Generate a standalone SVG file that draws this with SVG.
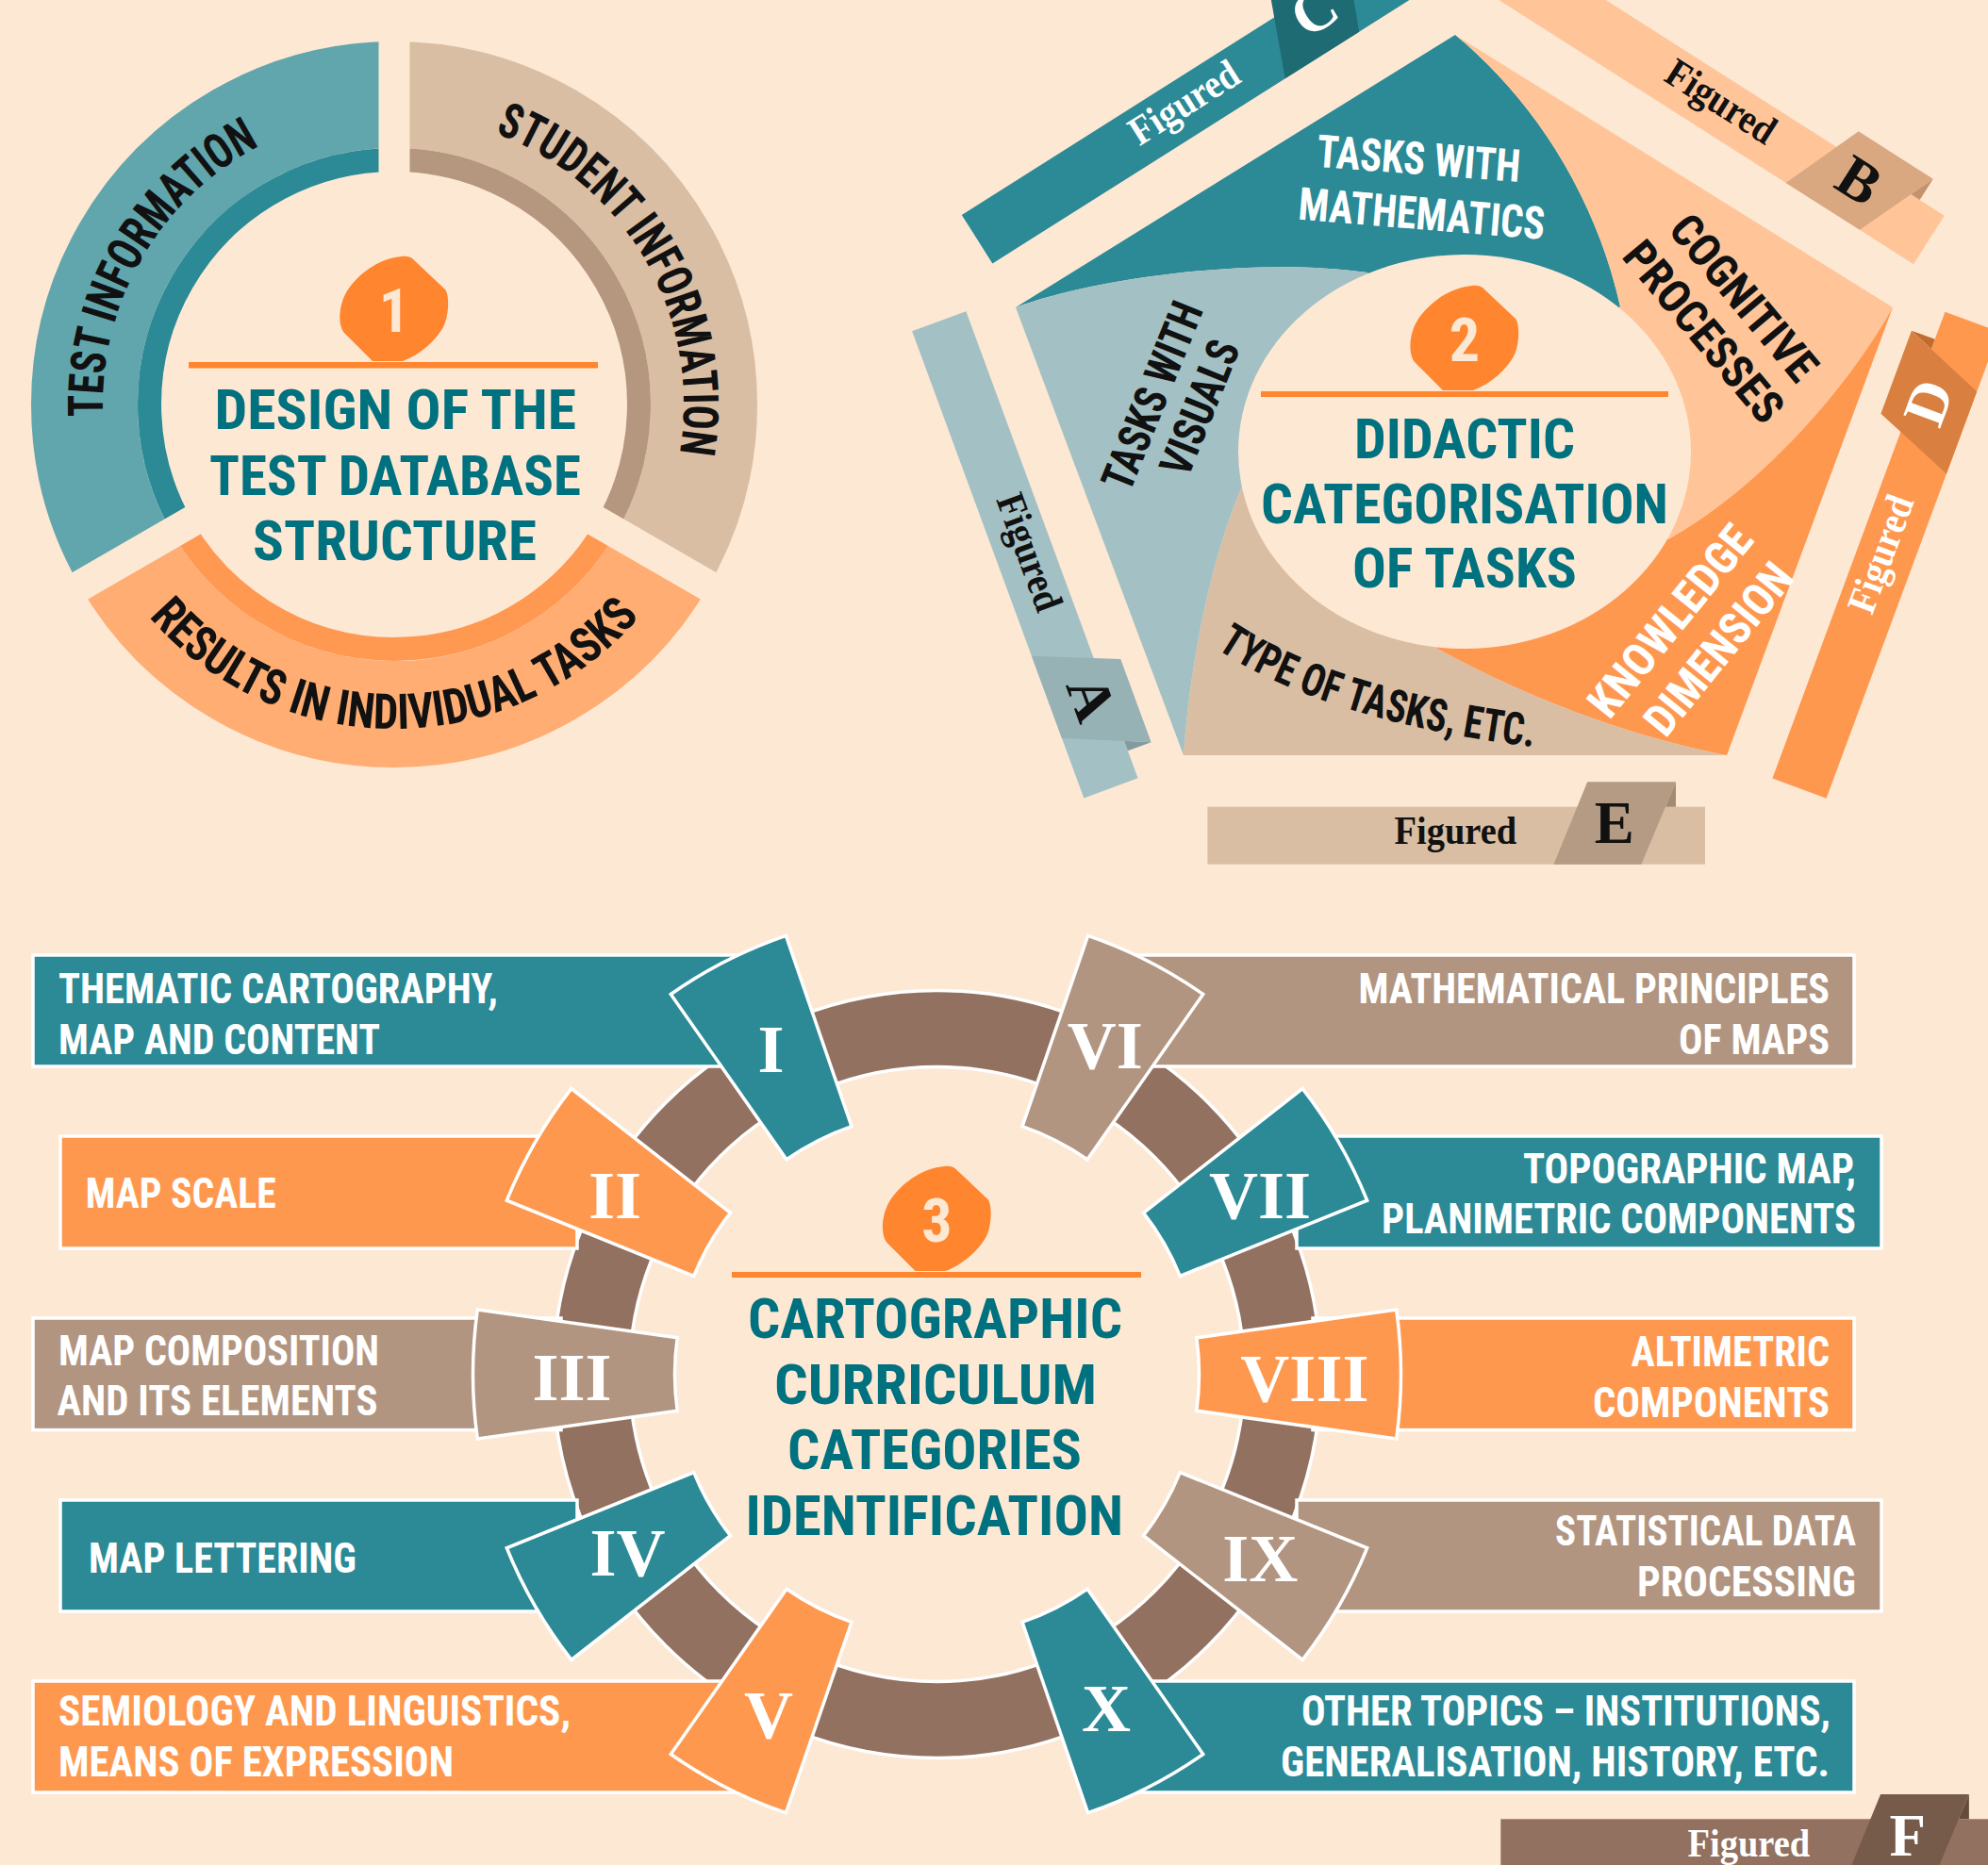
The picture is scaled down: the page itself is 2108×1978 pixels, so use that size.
<svg xmlns="http://www.w3.org/2000/svg" width="2108" height="1978" viewBox="0 0 2108 1978">
<defs>
<style>
.hd{font-family:'Roboto Condensed','Liberation Sans Narrow',Roboto,'Liberation Sans',sans-serif;font-weight:700}
.sf{font-family:'Liberation Serif','DejaVu Serif',serif;font-weight:700}
.title{fill:#00717f;font-size:60px}
.ring1{font-size:52px;fill:#111}
.lab{font-size:48px}
.bt{font-size:45px;fill:#fff}
.num{font-size:72px;fill:#fff;text-anchor:middle}
.fig{font-size:43px}
.let{font-size:63px;text-anchor:middle}
.bar{stroke:#fff;stroke-width:3.5}
.tab{stroke:#fff;stroke-width:3.5;stroke-linejoin:miter}
.teal{fill:#2b8a96}.orange{fill:#ff984f}.tan{fill:#b29580}
.badge{fill:#ff852f}
.digit{font-size:64px;fill:#fde8d4;text-anchor:middle}
.w{fill:#fff}.k{fill:#111}
</style>
<path id="badge" d="M-23,55 L-53,25 C-60,17 -60,-8 -46,-25 C-34,-40 -15,-54 8,-56 C14,-57 17,-55 19,-54 L54,-21 C59,-15 58,8 52,19 C44,33 28,48 9,55 Z"/>
<path id="tab" d="M487.2,68.5 A492,492 0 0 0 487.2,-68.5 L275.3,-38.7 A278,278 0 0 1 275.3,38.7 Z"/>
<path id="tp1" d="M119.5,509 A309,309 0 0 1 338,130.5"/>
<path id="tp2" d="M497.5,132.5 A307,307 0 0 1 714.5,508.5"/>
<path id="tp3" d="M120.1,601 A344,344 0 0 0 715.9,601"/>
<path id="tp4" d="M1290,688 Q1405,765 1632,793"/>
</defs>
<rect width="2108" height="1978" fill="#fde8d4"/>

<!-- 1: circular diagram -->
<g id="design-ring">
<g fill="none">
<path d="M418,100.5 A328.5,328.5 0 0 0 133.5,593.25" stroke="#62a6ad" stroke-width="113"/>
<path d="M418,169.5 A259.5,259.5 0 0 0 193.3,558.75" stroke="#2b8a96" stroke-width="25"/>
<path d="M702.5,593.25 A328.5,328.5 0 0 0 418,100.5" stroke="#d9bea3" stroke-width="113"/>
<path d="M642.7,558.75 A259.5,259.5 0 0 0 418,169.5" stroke="#b59780" stroke-width="25"/>
<path d="M133.5,593.25 A328.5,328.5 0 0 0 702.5,593.25" stroke="#ffad72" stroke-width="113"/>
<path d="M193.3,558.75 A259.5,259.5 0 0 0 642.7,558.75" stroke="#ff9850" stroke-width="25"/>
<path d="M418,429 V20 M418,429 L54.3,639 M418,429 L781.7,639" stroke="#fde8d4" stroke-width="33"/>
</g>
<text class="hd ring1"><textPath href="#tp1" startOffset="68" textLength="350" lengthAdjust="spacingAndGlyphs">TEST INFORMATION</textPath></text>
<text class="hd ring1"><textPath href="#tp2" startOffset="28.6" textLength="425" lengthAdjust="spacingAndGlyphs">STUDENT INFORMATION</textPath></text>
<text class="hd ring1"><textPath href="#tp3" startOffset="65.2" textLength="590" lengthAdjust="spacingAndGlyphs">RESULTS IN INDIVIDUAL TASKS</textPath></text>
<use href="#badge" x="418" y="328" class="badge"/>
<rect x="200" y="384" width="434" height="6.5" class="badge"/>
<text class="hd digit" x="418" y="352">1</text>
<text class="hd title" x="227.5" y="455" textLength="383.5" lengthAdjust="spacingAndGlyphs">DESIGN OF THE</text>
<text class="hd title" x="222" y="525" textLength="394" lengthAdjust="spacingAndGlyphs">TEST DATABASE</text>
<text class="hd title" x="268" y="594" textLength="301" lengthAdjust="spacingAndGlyphs">STRUCTURE</text>
</g>

<!-- 2: pentagon -->
<g id="didactic-pentagon">
<path fill="#2b8a96" d="M1077,326 L1543,37 C1620,100 1690,200 1718,325 L1553,479 L1450,289 C1330,272 1160,295 1077,326 Z"/>
<path fill="#ffc598" d="M1543,37 L2007,326 C1960,410 1870,515 1769,572 L1553,479 L1718,325 C1690,200 1620,100 1543,37 Z"/>
<path fill="#ff984f" d="M2007,326 L1831,801 C1720,780 1610,735 1524,688 L1553,479 L1769,572 C1870,515 1960,410 2007,326 Z"/>
<path fill="#d9bea3" d="M1831,801 L1255,801 C1262,700 1285,590 1317,516 L1553,479 L1524,688 C1610,735 1720,780 1831,801 Z"/>
<path fill="#a3c1c4" d="M1255,801 L1077,326 C1160,295 1330,272 1450,289 L1553,479 L1317,516 C1285,590 1262,700 1255,801 Z"/>
<ellipse cx="1553" cy="479" rx="240" ry="209" fill="#fde8d4"/>
<text class="hd lab w" transform="translate(1395.6,176.7) rotate(4.3)" textLength="216" lengthAdjust="spacingAndGlyphs">TASKS WITH</text>
<text class="hd lab w" transform="translate(1375.8,232.5) rotate(4.7)" textLength="262" lengthAdjust="spacingAndGlyphs">MATHEMATICS</text>
<text class="hd lab k" transform="translate(1767.7,244.4) rotate(50)" textLength="214" lengthAdjust="spacingAndGlyphs">COGNITIVE</text>
<text class="hd lab k" transform="translate(1718.4,272.4) rotate(50)" textLength="235" lengthAdjust="spacingAndGlyphs">PROCESSES</text>
<text class="hd lab w" transform="translate(1706.6,764.6) rotate(-51)" textLength="246" lengthAdjust="spacingAndGlyphs">KNOWLEDGE</text>
<text class="hd lab w" transform="translate(1766.3,783.8) rotate(-51)" textLength="219" lengthAdjust="spacingAndGlyphs">DIMENSION</text>
<text class="hd lab k" transform="translate(1197.8,523.2) rotate(-68)" textLength="210" lengthAdjust="spacingAndGlyphs">TASKS WITH</text>
<text class="hd lab k" transform="translate(1259.4,507.9) rotate(-68)" textLength="150" lengthAdjust="spacingAndGlyphs">VISUALS</text>
<text class="hd lab k"><textPath href="#tp4" textLength="355" lengthAdjust="spacingAndGlyphs">TYPE OF TASKS, ETC.</textPath></text>
<use href="#badge" x="1553" y="359" class="badge"/>
<rect x="1337" y="415" width="432" height="6" class="badge"/>
<text class="hd digit" x="1553" y="383">2</text>
<text class="hd title" x="1436" y="486" textLength="234" lengthAdjust="spacingAndGlyphs">DIDACTIC</text>
<text class="hd title" x="1337" y="554.6" textLength="432" lengthAdjust="spacingAndGlyphs">CATEGORISATION</text>
<text class="hd title" x="1434" y="622.8" textLength="238" lengthAdjust="spacingAndGlyphs">OF TASKS</text>
</g>

<!-- "Figured" ribbons -->
<g id="ribbon-a" transform="translate(1024.4,330.2) rotate(69.8)">
<rect width="527.6" height="61" fill="#a3c1c4"/>
<polygon points="496.6,-26.4 496.6,0 485.5,0" fill="#819c9f"/>
<polygon points="402.8,-26.4 496.6,-26.4 460,61 367.1,61" fill="#97b2b5"/>
<text class="sf fig k" x="198.2" y="39.3" textLength="129.6" lengthAdjust="spacingAndGlyphs">Figured</text>
<text class="sf let k" x="431.4" y="38">A</text>
</g>
<g id="ribbon-b" transform="translate(1616.8,-54.8) rotate(32.5)">
<rect width="527.6" height="61" fill="#ffc598"/>
<polygon points="496.6,-26.4 496.6,0 485.5,0" fill="#c4926c"/>
<polygon points="402.8,-26.4 496.6,-26.4 460,61 367.1,61" fill="#d9a880"/>
<text class="sf fig k" x="198.2" y="39.3" textLength="129.6" lengthAdjust="spacingAndGlyphs">Figured</text>
<text class="sf let k" x="431.4" y="38">B</text>
</g>
<g id="ribbon-c" transform="translate(1019.8,227.9) rotate(-32.3)">
<rect width="527.6" height="61" fill="#2b8a96"/>
<polygon points="496.6,-26.4 496.6,0 485.5,0" fill="#185a61"/>
<polygon points="402.8,-26.4 496.6,-26.4 460,61 367.1,61" fill="#1f6b73"/>
<text class="sf fig w" x="198.2" y="39.3" textLength="129.6" lengthAdjust="spacingAndGlyphs">Figured</text>
<text class="sf let w" x="431.4" y="38">C</text>
</g>
<g id="ribbon-d" transform="translate(1879.4,825.6) rotate(-69.7)">
<rect width="527.6" height="61" fill="#ff984f"/>
<polygon points="496.6,-26.4 496.6,0 485.5,0" fill="#c06c30"/>
<polygon points="402.8,-26.4 496.6,-26.4 460,61 367.1,61" fill="#d98040"/>
<text class="sf fig w" x="198.2" y="39.3" textLength="129.6" lengthAdjust="spacingAndGlyphs">Figured</text>
<text class="sf let w" x="431.4" y="38">D</text>
</g>
<g id="ribbon-e" transform="translate(1280.4,855.7)">
<rect width="527.6" height="61" fill="#d9bea3"/>
<polygon points="496.6,-26.4 496.6,0 485.5,0" fill="#a38a73"/>
<polygon points="402.8,-26.4 496.6,-26.4 460,61 367.1,61" fill="#b59b83"/>
<text class="sf fig k" x="198.2" y="39.3" textLength="129.6" lengthAdjust="spacingAndGlyphs">Figured</text>
<text class="sf let k" x="431.4" y="38">E</text>
</g>
<g id="ribbon-f" transform="translate(1591.3,1929.3)">
<rect width="527.6" height="61" fill="#927160"/>
<polygon points="496.6,-26.4 496.6,0 485.5,0" fill="#654c3d"/>
<polygon points="402.8,-26.4 496.6,-26.4 460,61 367.1,61" fill="#765b4a"/>
<text class="sf fig w" x="198.2" y="39.3" textLength="129.6" lengthAdjust="spacingAndGlyphs">Figured</text>
<text class="sf let w" x="431.4" y="38.5">F</text>
</g>

<!-- 3: curriculum wheel -->
<g id="curriculum-wheel">
<circle cx="993.5" cy="1457.5" r="366.5" fill="none" stroke="#927160" stroke-width="81"/>
<circle cx="993.5" cy="1457.5" r="407" fill="none" stroke="#fff" stroke-width="3.5"/>
<circle cx="993.5" cy="1457.5" r="326" fill="none" stroke="#fff" stroke-width="3.5"/>
<use href="#badge" x="993.5" y="1293" class="badge"/>
<rect x="776" y="1349" width="434" height="6" class="badge"/>
<text class="hd digit" x="993.5" y="1317">3</text>
<text class="hd title" x="793" y="1419" textLength="397" lengthAdjust="spacingAndGlyphs">CARTOGRAPHIC</text>
<text class="hd title" x="821" y="1489" textLength="342" lengthAdjust="spacingAndGlyphs">CURRICULUM</text>
<text class="hd title" x="835" y="1558" textLength="312" lengthAdjust="spacingAndGlyphs">CATEGORIES</text>
<text class="hd title" x="790.5" y="1628" textLength="400.5" lengthAdjust="spacingAndGlyphs">IDENTIFICATION</text>
</g>

<g id="cat-1">
<rect x="35" y="1013" width="780" height="118" class="bar teal"/>
<use href="#tab" transform="translate(993.5,1457.5) rotate(-117)" class="tab teal"/>
<text class="sf num" x="817.5" y="1136.5">I</text>
<text class="hd bt" x="62" y="1064" textLength="466" lengthAdjust="spacingAndGlyphs">THEMATIC CARTOGRAPHY,</text>
<text class="hd bt" x="62" y="1118" textLength="341" lengthAdjust="spacingAndGlyphs">MAP AND CONTENT</text>
</g>
<g id="cat-2">
<rect x="64" y="1205" width="548" height="119" class="bar orange"/>
<use href="#tab" transform="translate(993.5,1457.5) rotate(-150)" class="tab orange"/>
<text class="sf num" x="652" y="1292">II</text>
<text class="hd bt" x="90.7" y="1280.5" textLength="202" lengthAdjust="spacingAndGlyphs">MAP SCALE</text>
</g>
<g id="cat-3">
<rect x="35" y="1398" width="560" height="118.6" class="bar tan"/>
<use href="#tab" transform="translate(993.5,1457.5) rotate(-180)" class="tab tan"/>
<text class="sf num" x="606.6" y="1485">III</text>
<text class="hd bt" x="62" y="1448" textLength="340" lengthAdjust="spacingAndGlyphs">MAP COMPOSITION</text>
<text class="hd bt" x="60.5" y="1501" textLength="340" lengthAdjust="spacingAndGlyphs">AND ITS ELEMENTS</text>
</g>
<g id="cat-4">
<rect x="64" y="1591" width="548" height="118" class="bar teal"/>
<use href="#tab" transform="translate(993.5,1457.5) rotate(-210)" class="tab teal"/>
<text class="sf num" x="665.5" y="1671">IV</text>
<text class="hd bt" x="94" y="1667.5" textLength="284" lengthAdjust="spacingAndGlyphs">MAP LETTERING</text>
</g>
<g id="cat-5">
<rect x="35" y="1783" width="780" height="118" class="bar orange"/>
<use href="#tab" transform="translate(993.5,1457.5) rotate(-243)" class="tab orange"/>
<text class="sf num" x="815" y="1842.5">V</text>
<text class="hd bt" x="62" y="1830" textLength="543" lengthAdjust="spacingAndGlyphs">SEMIOLOGY AND LINGUISTICS,</text>
<text class="hd bt" x="62" y="1884" textLength="419" lengthAdjust="spacingAndGlyphs">MEANS OF EXPRESSION</text>
</g>
<g id="cat-6">
<rect x="1172" y="1013" width="794" height="118" class="bar tan"/>
<use href="#tab" transform="translate(993.5,1457.5) rotate(-63)" class="tab tan"/>
<text class="sf num" x="1171.7" y="1133">VI</text>
<text class="hd bt" x="1440.5" y="1064" textLength="499.5" lengthAdjust="spacingAndGlyphs">MATHEMATICAL PRINCIPLES</text>
<text class="hd bt" x="1780" y="1118" textLength="160" lengthAdjust="spacingAndGlyphs">OF MAPS</text>
</g>
<g id="cat-7">
<rect x="1375" y="1205" width="620" height="119" class="bar teal"/>
<use href="#tab" transform="translate(993.5,1457.5) rotate(-30)" class="tab teal"/>
<text class="sf num" x="1336" y="1292">VII</text>
<text class="hd bt" x="1615" y="1255" textLength="353" lengthAdjust="spacingAndGlyphs">TOPOGRAPHIC MAP,</text>
<text class="hd bt" x="1465" y="1308" textLength="503" lengthAdjust="spacingAndGlyphs">PLANIMETRIC COMPONENTS</text>
</g>
<g id="cat-8">
<rect x="1392" y="1398" width="574" height="118.6" class="bar orange"/>
<use href="#tab" transform="translate(993.5,1457.5)" class="tab orange"/>
<text class="sf num" x="1383.4" y="1486">VIII</text>
<text class="hd bt" x="1729.5" y="1449" textLength="210.5" lengthAdjust="spacingAndGlyphs">ALTIMETRIC</text>
<text class="hd bt" x="1689" y="1503" textLength="251" lengthAdjust="spacingAndGlyphs">COMPONENTS</text>
</g>
<g id="cat-9">
<rect x="1375" y="1591" width="620" height="118" class="bar tan"/>
<use href="#tab" transform="translate(993.5,1457.5) rotate(30)" class="tab tan"/>
<text class="sf num" x="1336.3" y="1677">IX</text>
<text class="hd bt" x="1649" y="1639" textLength="319" lengthAdjust="spacingAndGlyphs">STATISTICAL DATA</text>
<text class="hd bt" x="1736" y="1693" textLength="232" lengthAdjust="spacingAndGlyphs">PROCESSING</text>
</g>
<g id="cat-10">
<rect x="1172" y="1783" width="794" height="118" class="bar teal"/>
<use href="#tab" transform="translate(993.5,1457.5) rotate(63)" class="tab teal"/>
<text class="sf num" x="1173" y="1836">X</text>
<text class="hd bt" x="1380" y="1830" textLength="561" lengthAdjust="spacingAndGlyphs">OTHER TOPICS – INSTITUTIONS,</text>
<text class="hd bt" x="1358" y="1884" textLength="582" lengthAdjust="spacingAndGlyphs">GENERALISATION, HISTORY, ETC.</text>
</g>
</svg>
